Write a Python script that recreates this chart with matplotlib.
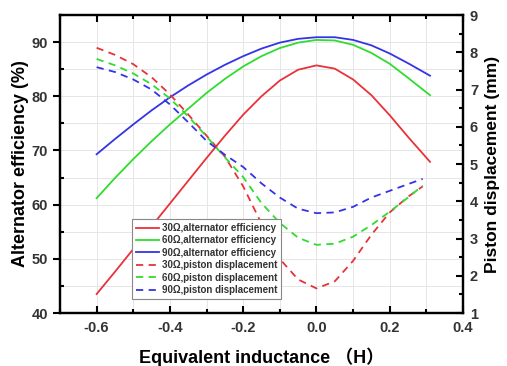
import numpy as np
import matplotlib.pyplot as plt
from matplotlib.ticker import MultipleLocator

plt.rcParams['font.family'] = ['Liberation Sans', 'Noto Sans CJK SC', 'DejaVu Sans']
plt.rcParams['font.weight'] = 'bold'

# equivalent inductance (H)
x_eff = [-0.6, -0.55, -0.5, -0.45, -0.4, -0.35, -0.3, -0.25, -0.2, -0.15,
         -0.1, -0.05, 0.0, 0.05, 0.1, 0.15, 0.2, 0.25, 0.31]
x_disp = [-0.6, -0.55, -0.5, -0.45, -0.4, -0.35, -0.3, -0.25, -0.2, -0.15,
          -0.1, -0.05, 0.0, 0.05, 0.1, 0.15, 0.2, 0.25, 0.29]

# alternator efficiency (%)
eff_30 = [43.5, 47.6, 51.8, 56.0, 60.2, 64.4, 68.6, 72.7, 76.6, 80.0,
          82.9, 84.9, 85.7, 85.1, 83.1, 80.2, 76.5, 72.5, 67.9]
eff_60 = [61.2, 64.9, 68.4, 71.7, 74.8, 77.7, 80.6, 83.2, 85.5, 87.4,
          88.9, 89.9, 90.4, 90.3, 89.5, 88.0, 86.0, 83.4, 80.2]
eff_90 = [69.3, 72.1, 74.8, 77.4, 79.8, 82.0, 84.0, 85.8, 87.4, 88.8,
          89.9, 90.6, 90.9, 90.9, 90.4, 89.4, 87.9, 86.1, 83.8]

# piston displacement (mm)
disp_30 = [8.12, 7.93, 7.68, 7.33, 6.87, 6.33, 5.76, 5.2, 4.4, 3.4,
           2.45, 1.9, 1.66, 1.85, 2.4, 3.1, 3.7, 4.12, 4.4]
disp_60 = [7.82, 7.65, 7.43, 7.14, 6.76, 6.28, 5.74, 5.18, 4.65, 3.95,
           3.42, 3.02, 2.83, 2.86, 3.05, 3.36, 3.72, 4.1, 4.42]
disp_90 = [7.6, 7.47, 7.27, 7.0, 6.6, 6.12, 5.62, 5.25, 4.92, 4.48,
           4.1, 3.8, 3.68, 3.7, 3.85, 4.1, 4.28, 4.46, 4.6]

red, green, blue = '#e8323a', '#2fdc2f', '#3434e6'
dash = (0, (4, 3))

fig = plt.figure(figsize=(5.07, 3.66), dpi=100)
ax = fig.add_axes([0.1183, 0.1448, 0.7949, 0.8142])
ax2 = ax.twinx()

l1, = ax.plot(x_eff, eff_30, color=red, lw=1.3, label='30Ω,alternator efficiency')
l2, = ax.plot(x_eff, eff_60, color=green, lw=1.3, label='60Ω,alternator efficiency')
l3, = ax.plot(x_eff, eff_90, color=blue, lw=1.3, label='90Ω,alternator efficiency')
l4, = ax2.plot(x_disp, disp_30, color=red, lw=1.3, ls=dash, label='30Ω,piston displacement')
l5, = ax2.plot(x_disp, disp_60, color=green, lw=1.3, ls=dash, label='60Ω,piston displacement')
l6, = ax2.plot(x_disp, disp_90, color=blue, lw=1.3, ls=dash, label='90Ω,piston displacement')

ax.set_xlim(-0.7, 0.4)
ax.set_ylim(40, 95)
ax2.set_ylim(1, 9)

ax.xaxis.set_major_locator(MultipleLocator(0.2))
ax.xaxis.set_minor_locator(MultipleLocator(0.1))
ax.yaxis.set_major_locator(MultipleLocator(10))
ax.yaxis.set_minor_locator(MultipleLocator(5))
ax2.yaxis.set_major_locator(MultipleLocator(1))
ax2.yaxis.set_minor_locator(MultipleLocator(0.5))

ax.grid(True, which='both', color='#e6e6e6', lw=0.7)
ax.set_axisbelow(True)

# x ticks point in, left y major ticks point out
ax.tick_params(axis='x', which='both', direction='in', top=True, width=1.5,
               labelsize=10.5, labelcolor='#333333', pad=6)
ax.tick_params(axis='x', which='major', length=5)
ax.tick_params(axis='x', which='minor', length=3)
ax.tick_params(axis='y', which='major', direction='out', length=5, width=1.5,
               labelsize=10.5, labelcolor='#333333')
ax.tick_params(axis='y', which='minor', direction='in', length=3, width=1.5)
ax2.tick_params(axis='y', which='major', direction='in', length=5, width=1.5,
                labelsize=10.5, labelcolor='#333333', pad=5)
ax2.tick_params(axis='y', which='minor', direction='in', length=3, width=1.5)
ax.xaxis.set_major_formatter(plt.FuncFormatter(lambda v, p: f'{v:.1f}'))

for s in ax.spines.values():
    s.set_linewidth(1.6)
for s in ax2.spines.values():
    s.set_linewidth(1.6)

ax.set_xlabel('Equivalent inductance （H）', fontsize=13, fontweight='bold', labelpad=9)
ax.set_ylabel('Alternator efficiency (%)', fontsize=13, fontweight='bold', labelpad=2)
ax2.set_ylabel('Piston displacement (mm)', fontsize=12.5, fontweight='bold', labelpad=5)

leg = ax2.legend(handles=[l1, l2, l3, l4, l5, l6], loc='upper left',
                 bbox_to_anchor=(0.178, 0.315), fontsize=7, frameon=True,
                 fancybox=False, edgecolor='#888888', framealpha=1,
                 handlelength=2.4, handletextpad=0.3, labelspacing=0.25,
                 borderpad=0.4, borderaxespad=0)
leg.get_frame().set_linewidth(0.8)
for t in leg.get_texts():
    t.set_color('#333333')

fig.savefig('out.png', dpi=100)
